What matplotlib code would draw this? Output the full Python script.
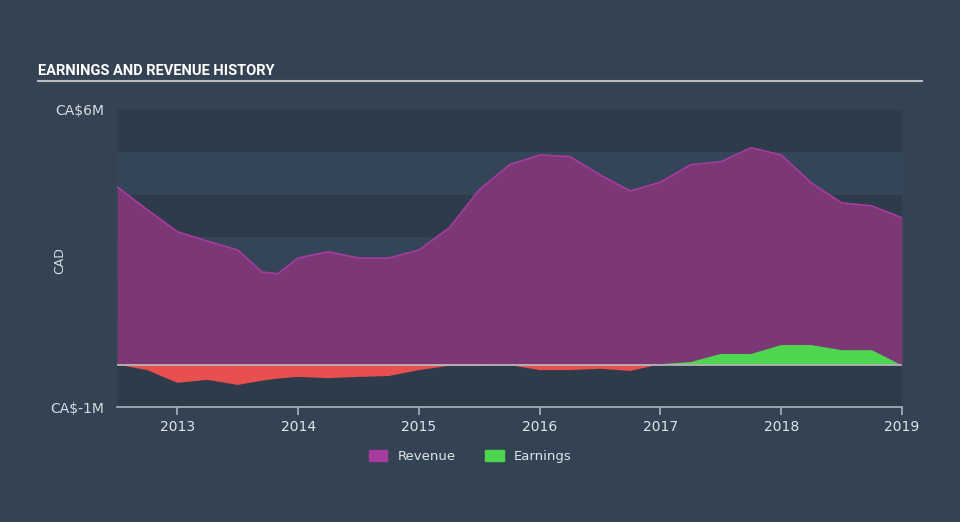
import matplotlib
matplotlib.use("Agg")
import matplotlib.pyplot as plt
import numpy as np
from matplotlib.patches import Patch

# revenue / earnings history (CA$ millions)
years = [2012.5, 2012.75, 2013.0, 2013.25, 2013.5, 2013.7, 2013.83, 2014.0, 2014.25,
         2014.5, 2014.75, 2015.0, 2015.25, 2015.5, 2015.75, 2016.0, 2016.25, 2016.5,
         2016.75, 2017.0, 2017.25, 2017.5, 2017.75, 2018.0, 2018.25, 2018.5, 2018.75, 2019.0]
revenue = [4.19, 3.65, 3.13, 2.91, 2.70, 2.18, 2.14, 2.51, 2.66,
           2.51, 2.51, 2.70, 3.22, 4.12, 4.71, 4.94, 4.90, 4.47,
           4.09, 4.30, 4.71, 4.78, 5.11, 4.94, 4.28, 3.81, 3.74, 3.46]
earnings = [0.0, -0.13, -0.43, -0.36, -0.48, -0.38, -0.33, -0.29, -0.32,
            -0.29, -0.27, -0.13, -0.03, -0.03, -0.01, -0.13, -0.13, -0.10,
            -0.15, 0.01, 0.06, 0.25, 0.25, 0.46, 0.46, 0.34, 0.34, -0.02]
xticks = [2013, 2014, 2015, 2016, 2017, 2018, 2019]
ytick_vals = [6, -1]
ytick_labels = ["CA$6M", "CA$-1M"]

bg = "#334354"
fig = plt.figure(figsize=(9.6, 5.22), dpi=100, facecolor=bg)
ax = fig.add_axes([0.1219, 0.2203, 0.8177, 0.569])
ax.set_facecolor(bg)

# alternating bands
for lo in range(-1, 6):
    c = "#2d3b4a" if (lo % 2 == 1 or lo == -1) else "#344557"
    ax.axhspan(lo, lo + 1, color=c, lw=0, zorder=0)

x = np.array(years)
rev = np.array(revenue)
ear = np.array(earnings)

ax.fill_between(x, 0, rev, color="#7b3875", lw=0, zorder=2)
ax.plot(x, rev, color="#a83ba0", lw=1.2, zorder=3)

ax.fill_between(x, 0, ear, where=ear >= 0, interpolate=True, color="#4fd650", lw=0, zorder=4)
ax.fill_between(x, 0, ear, where=ear <= 0, interpolate=True, color="#e84f4f", lw=0, zorder=4)
ax.axhline(0, color="#b8bcc0", lw=1.2, zorder=5)

ax.set_xlim(2012.5, 2019.0)
ax.set_ylim(-1, 6)

for s in ["top", "right", "left"]:
    ax.spines[s].set_visible(False)
ax.spines["bottom"].set_color("#aab4be")
ax.spines["bottom"].set_linewidth(1.2)

ax.set_xticks(xticks)
ax.set_xticklabels([str(t) for t in xticks], fontsize=10)
ax.tick_params(axis="x", colors="#aab4be", length=6, width=1.2)
for lbl in ax.get_xticklabels():
    lbl.set_color("#e0e4e8")
ax.set_yticks(ytick_vals)
ax.set_yticklabels(ytick_labels, color="#d8dce0", fontsize=10)
ax.tick_params(axis="y", length=0, pad=9)
fig.text(0.0625, 0.50, "CAD", color="#d8dce0", fontsize=9, rotation=90, va="center", ha="center")

fig.text(0.040, 0.856, "EARNINGS AND REVENUE HISTORY", color="white", fontsize=10.5,
         fontweight="bold", family=["Roboto", "DejaVu Sans"])
fig.add_artist(plt.Line2D([0.040, 0.960], [0.845, 0.845], color="#b8bcc0", lw=1.5))

handles = [Patch(color="#a83ba0", label="Revenue"), Patch(color="#4fd650", label="Earnings")]
leg = fig.legend(handles=handles, loc="center", bbox_to_anchor=(0.49, 0.126), ncol=2,
                 frameon=False, fontsize=9.5, handlelength=1.4, handleheight=1.0, columnspacing=2.2)
for t in leg.get_texts():
    t.set_color("#e0e4e8")

fig.savefig("out.png", dpi=100, facecolor=bg)
